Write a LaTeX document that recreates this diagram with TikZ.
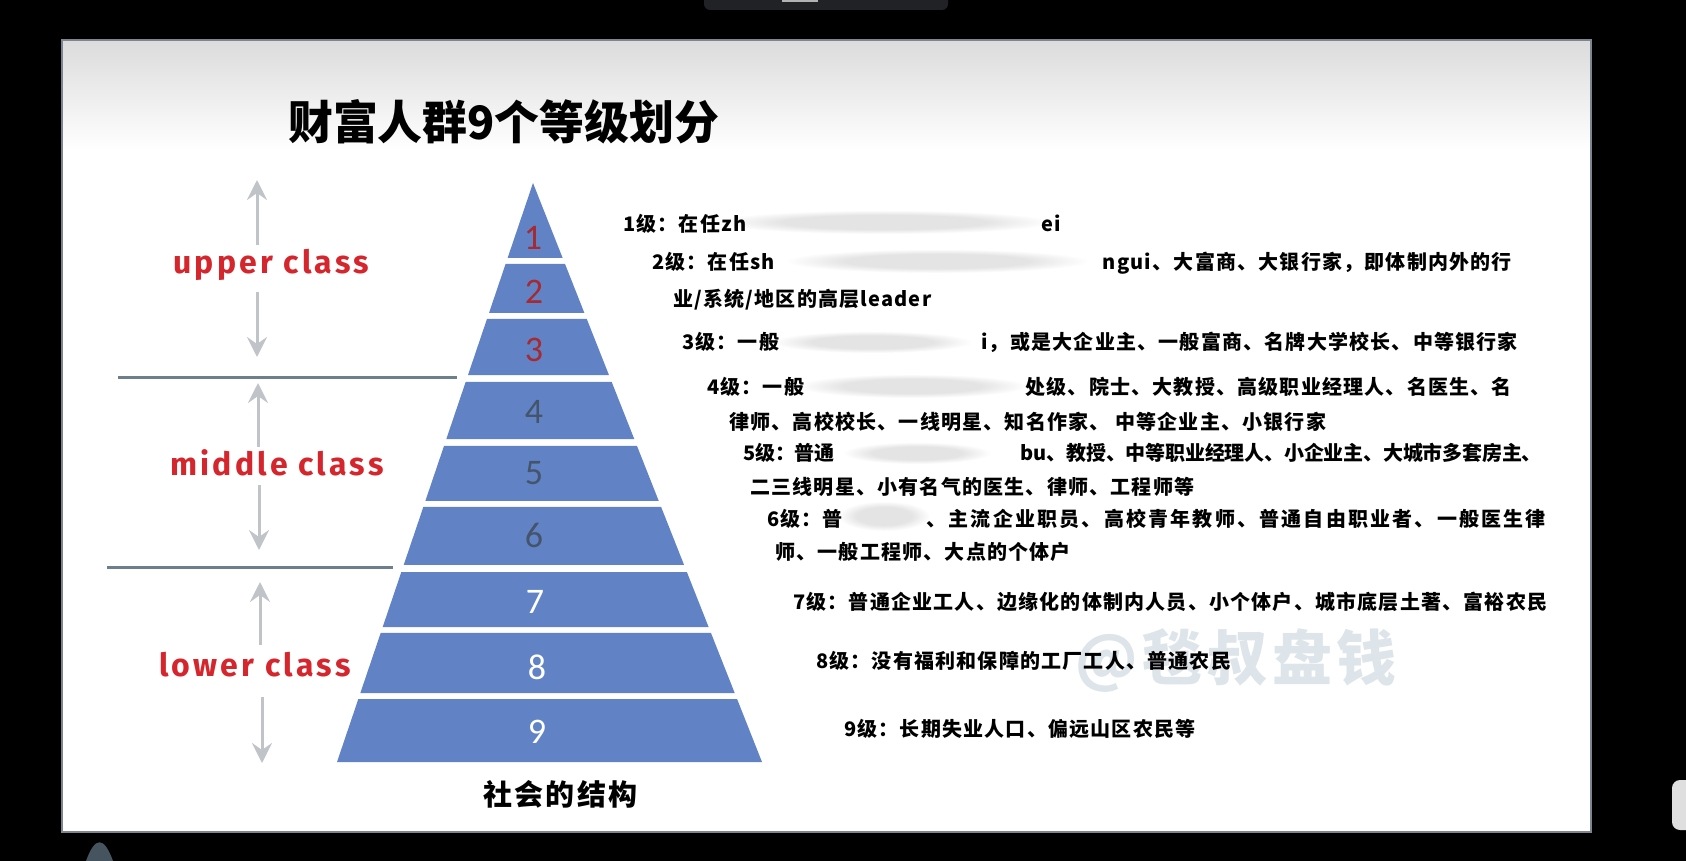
\documentclass[tikz,border=0pt]{standalone}
\usepackage{fontspec}
\usetikzlibrary{arrows.meta,calc}
\newfontfamily\cjk{Noto Sans CJK SC}[LetterSpace=6]
\newfontfamily\cjktight{Noto Sans CJK SC}[LetterSpace=-1]
\newfontfamily\cjkloose{Noto Sans CJK SC}[LetterSpace=11]
\newfontfamily\cjkwide{Noto Sans CJK SC}[LetterSpace=8]
\newfontfamily\cjkplain{Noto Sans CJK SC}
\newfontfamily\classfont{Fira Sans}[LetterSpace=10]
\newfontfamily\numfont{Carlito}
\definecolor{pyrblue}{RGB}{97,131,198}
\definecolor{topred}{RGB}{165,42,50}
\definecolor{midslate}{RGB}{68,84,106}
\definecolor{classred}{RGB}{212,38,44}
\definecolor{arrowgray}{RGB}{192,196,200}
\definecolor{sepgray}{RGB}{110,127,140}
\definecolor{markgray}{RGB}{221,228,234}
\definecolor{blurc}{RGB}{228,228,228}
\definecolor{slideframe}{RGB}{125,133,147}
\definecolor{tabdark}{RGB}{32,34,38}
\definecolor{bumpgray}{RGB}{70,84,96}
\pgfdeclareradialshading{blurshade}{\pgfpoint{0bp}{0bp}}{color(0bp)=(blurc); color(15bp)=(blurc); color(25bp)=(white); color(50bp)=(white)}
\tikzset{
  desc/.style={anchor=base west, inner sep=0pt, font=\cjk\bfseries\fontsize{20}{24}\selectfont},
  descend/.style={desc, anchor=base east},
  tier/.style={fill=pyrblue},
  tiernum/.style={inner sep=0pt, font=\numfont\fontsize{36}{40}\selectfont},
  classlabel/.style={anchor=base west, inner sep=0pt, text=classred, font=\classfont\bfseries\fontsize{32}{36}\selectfont},
  classarrow/.style={draw=arrowgray, line width=3pt, -{Stealth[length=20pt,width=20pt,inset=7pt]}},
  sepline/.style={draw=sepgray, line width=3pt},
  blur/.style={shading=blurshade},
}
\begin{document}
\begin{tikzpicture}[x=1pt,y=-1pt]
\useasboundingbox (0,0) rectangle (1686,861);
% screen background
\fill[black] (0,0) rectangle (1686,861);
\fill[tabdark, rounded corners=6pt] (704,-12) rectangle (948,10);
\fill[gray!60] (782,0) rectangle (818,2);
\fill[gray!25, rounded corners=8pt] (1672,780) rectangle (1700,830);
\fill[bumpgray] (86,861) .. controls (95,836) and (104,836) .. (113,861) -- cycle;
% slide
\fill[white] (62,40) rectangle (1591,832);
\shade[top color=gray!28, bottom color=white] (62,40) rectangle (1591,150);
\draw[slideframe, line width=2pt] (62,40) rectangle (1591,832);

% title
\node[anchor=base west, inner sep=0pt, font=\cjkplain\bfseries\fontsize{46}{50}\selectfont] (title) at (288,139.5) {\scalebox{0.975}[1]{财富人群9个等级划分}};

% pyramid
\coordinate (apex) at (533,183);
\coordinate (bl) at (337,762);
\coordinate (br) at (762,762);
\foreach \t/\b in {183/258, 264/313, 319/375, 382/439, 446/501, 507/565, 572/627, 633/693, 699/762}{
  \fill[tier] ($(apex)!{(\t-183)/579}!(bl)$) -- ($(apex)!{(\b-183)/579}!(bl)$)
     -- ($(apex)!{(\b-183)/579}!(br)$) -- ($(apex)!{(\t-183)/579}!(br)$) -- cycle;
}
\node[tiernum, text=topred] (n1) at (533,238) {1};
\node[tiernum, text=topred] (n2) at (534,292) {2};
\node[tiernum, text=topred] (n3) at (534,350) {3};
\node[tiernum, text=midslate] (n4) at (534,412) {4};
\node[tiernum, text=midslate] (n5) at (534,473) {5};
\node[tiernum, text=midslate] (n6) at (534,535) {6};
\node[tiernum, text=white] (n7) at (535,602) {7};
\node[tiernum, text=white] (n8) at (537,667) {8};
\node[tiernum, text=white] (n9) at (537,732) {9};
\node[anchor=base west, inner sep=0pt, font=\cjkwide\bfseries\fontsize{29}{32}\selectfont] (struct) at (483,805) {社会的结构};

% class separators
\coordinate (s1a) at (118,377); \coordinate (s1b) at (457,377);
\coordinate (s2a) at (107,567); \coordinate (s2b) at (393,567);
\draw[sepline] (s1a) -- (s1b);
\draw[sepline] (s2a) -- (s2b);

% class labels
\node[classlabel] (upper) at (173,273.5) {upper class};
\node[classlabel] (middle) at (170,475) {middle class};
\node[classlabel] (lower) at (159,676.5) {lower class};

\coordinate (ua1) at (257,245); \coordinate (ua2) at (257,180);
\coordinate (ub1) at (257,292); \coordinate (ub2) at (257,357);
\coordinate (ma1) at (258,447); \coordinate (ma2) at (258,383);
\coordinate (mb1) at (259,485); \coordinate (mb2) at (259,550);
\coordinate (la1) at (260,645); \coordinate (la2) at (260,582);
\coordinate (lb1) at (262,697); \coordinate (lb2) at (262,763);
\draw[classarrow] (ua1) -- (ua2);
\draw[classarrow] (ub1) -- (ub2);
\draw[classarrow] (ma1) -- (ma2);
\draw[classarrow] (mb1) -- (mb2);
\draw[classarrow] (la1) -- (la2);
\draw[classarrow] (lb1) -- (lb2);

% watermark
\node[anchor=base west, inner sep=0pt, text=markgray, font=\cjkwide\bfseries\fontsize{60}{64}\selectfont] (mark) at (1075,680) {@毯叔盘钱};

% blurred areas
\shade[blur] (884,222) ellipse [x radius=168, y radius=12];
\shade[blur] (937,261) ellipse [x radius=152, y radius=12];
\shade[blur] (872,342) ellipse [x radius=100, y radius=11];
\shade[blur] (912,386) ellipse [x radius=115, y radius=12];
\shade[blur] (917,453) ellipse [x radius=74, y radius=11];
\shade[blur] (884,516) ellipse [x radius=46, y radius=15];

% descriptions
\node[desc] (l1a) at (623,231.5) {1级：在任zh};
\node[descend] (l1b) at (1061,231.5) {ei};
\node[desc] (l2a) at (652,269.5) {2级：在任sh};
\node[descend] (l2b) at (1512,269.5) {ngui、大富商、大银行家，即体制内外的行};
\node[desc] (l2c) at (673,306.5) {业/系统/地区的高层leader};
\node[desc] (l3a) at (682,349.5) {3级：一般};
\node[descend] (l3b) at (1518,349.5) {i，或是大企业主、一般富商、名牌大学校长、中等银行家};
\node[desc] (l4a) at (707,394.5) {4级：一般};
\node[descend] (l4b) at (1512,394.5) {处级、院士、大教授、高级职业经理人、名医生、名};
\node[desc] (l4c) at (729,429.5) {律师、高校校长、一线明星、知名作家、 中等企业主、小银行家};
\node[desc, font=\cjktight\bfseries\fontsize{20}{24}\selectfont] (l5a) at (743,460.5) {5级：普通};
\node[descend, font=\cjktight\bfseries\fontsize{20}{24}\selectfont] (l5b) at (1542,460.5) {bu、教授、中等职业经理人、小企业主、大城市多套房主、};
\node[desc] (l5c) at (750,494.5) {二三线明星、小有名气的医生、律师、工程师等};
\node[desc] (l6a) at (767,526.5) {6级：普};
\node[descend, font=\cjkloose\bfseries\fontsize{20}{24}\selectfont] (l6b) at (1546,526.5) {、主流企业职员、高校青年教师、普通自由职业者、一般医生律};
\node[desc] (l6c) at (775,559.5) {师、一般工程师、大点的个体户};
\node[desc] (l7) at (793,609.5) {7级：普通企业工人、边缘化的体制内人员、小个体户、城市底层土著、富裕农民};
\node[desc] (l8) at (816,668.5) {8级：没有福利和保障的工厂工人、普通农民};
\node[desc] (l9) at (844,736.5) {9级：长期失业人口、偏远山区农民等};
\end{tikzpicture}
\end{document}
